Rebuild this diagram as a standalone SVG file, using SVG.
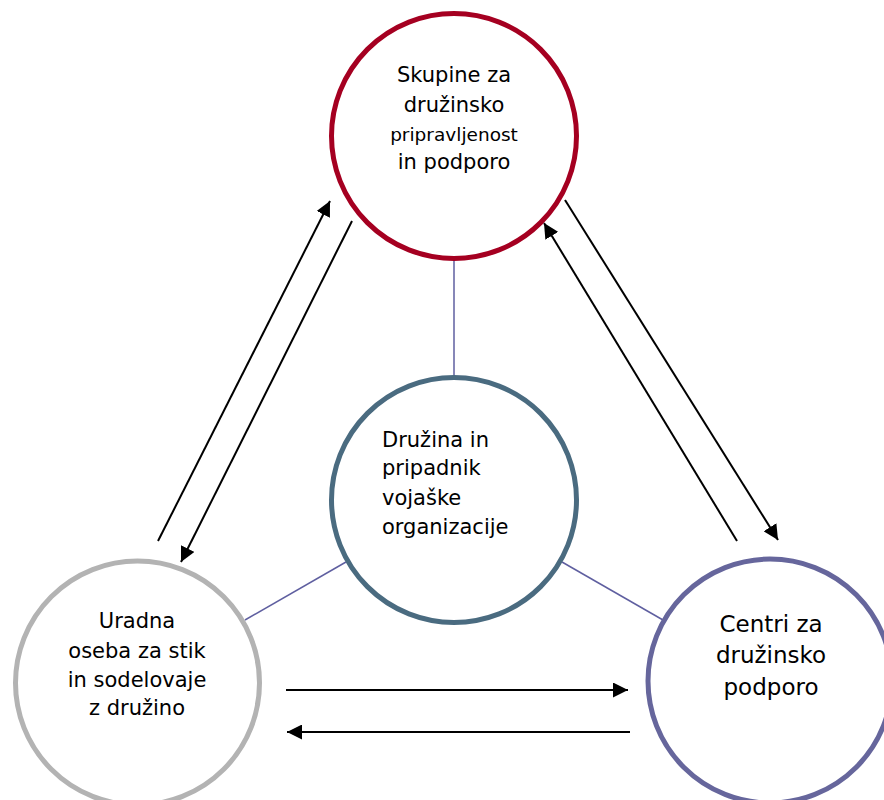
<svg xmlns="http://www.w3.org/2000/svg" width="884" height="800" viewBox="0 0 884 800">
<style>
.node{fill:#fff;stroke-width:5}
.t{font-family:"DejaVu Sans","Liberation Sans",sans-serif;font-size:21px;fill:#000}
.c{text-anchor:middle}
.link{stroke:#5F5FA0;stroke-width:1.5;fill:none}
.arr{stroke:#000;stroke-width:2;fill:none;marker-end:url(#ah)}
</style>
<defs>
<marker id="ah" markerUnits="userSpaceOnUse" markerWidth="15" markerHeight="15" refX="15" refY="7.5" orient="auto">
<path d="M0,0 L15,7.5 L0,15 z" fill="#000"/>
</marker>
</defs>
<rect width="884" height="800" fill="#fff"/>
<g id="connectors">
<line class="link" x1="454" y1="258" x2="454" y2="378"/>
<line class="link" x1="346" y1="562" x2="245" y2="620"/>
<line class="link" x1="562" y1="562" x2="663" y2="620"/>
<line class="arr" x1="158" y1="541" x2="330" y2="201"/>
<line class="arr" x1="352" y1="221" x2="181" y2="562"/>
<line class="arr" x1="565" y1="200" x2="778" y2="540"/>
<line class="arr" x1="737" y1="541" x2="544" y2="223"/>
<line class="arr" x1="286" y1="690" x2="628" y2="690"/>
<line class="arr" x1="630" y1="732" x2="287" y2="732"/>
</g>
<g id="top">
<circle class="node" cx="454" cy="136" r="122.5" stroke="#A50021"/>
<text class="t c" x="454" y="82">Skupine za</text>
<text class="t c" x="454" y="112">družinsko</text>
<text class="t c" x="454" y="141" font-size="18.5px" style="font-size:18.5px">pripravljenost</text>
<text class="t c" x="454" y="169">in podporo</text>
</g>
<g id="center">
<circle class="node" cx="454" cy="500" r="122.5" stroke="#4A6B80"/>
<text class="t" x="382" y="447">Družina in</text>
<text class="t" x="382" y="475">pripadnik</text>
<text class="t" x="382" y="505">vojaške</text>
<text class="t" x="382" y="534">organizacije</text>
</g>
<g id="left">
<circle class="node" cx="137.5" cy="683" r="122" stroke="#B3B3B3"/>
<text class="t c" x="137" y="628">Uradna</text>
<text class="t c" x="137" y="658">oseba za stik</text>
<text class="t c" x="137" y="687">in sodelovaje</text>
<text class="t c" x="137" y="715">z družino</text>
</g>
<g id="right">
<circle class="node" cx="770" cy="681" r="122" stroke="#66669C"/>
<text class="t c" x="771" y="632" style="font-size:23px">Centri za</text>
<text class="t c" x="771" y="663" style="font-size:23px">družinsko</text>
<text class="t c" x="771" y="695" style="font-size:23px">podporo</text>
</g>
</svg>
